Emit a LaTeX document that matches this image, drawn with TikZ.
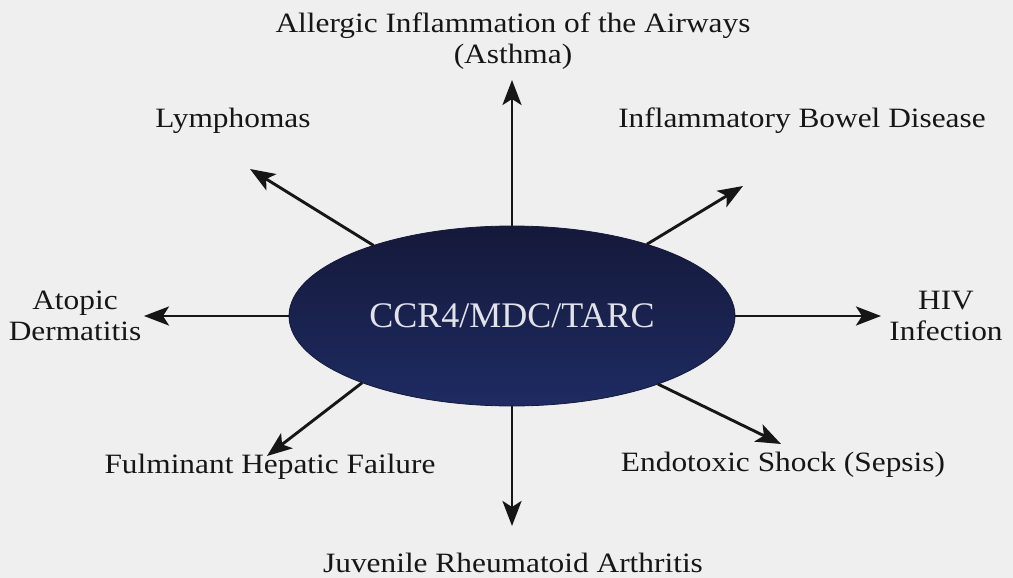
\documentclass[tikz,border=0pt]{standalone}
\usepackage{fontspec}
\setmainfont{Liberation Serif}[FakeStretch=1.12]
\newfontfamily\ctrfont{Liberation Serif}
\usetikzlibrary{arrows.meta,shapes.geometric}
\definecolor{bg}{HTML}{EFEFEF}
\definecolor{ink}{HTML}{161616}
\definecolor{navyA}{HTML}{15193A}
\definecolor{navyB}{HTML}{1E2B62}
\definecolor{ctrtext}{HTML}{E2E2EA}
\tikzset{
  lbl/.style={font=\fontsize{28}{31}\selectfont, text=ink, align=center, inner sep=0pt},
  conn/.style={draw=ink, line width=2.9pt, -{Stealth[length=25pt,width=19pt,inset=6pt]}},
  hub/.style={ellipse, minimum width=446pt, minimum height=180pt, inner sep=0pt, outer sep=0pt,
    draw=navyA, line width=0.8pt, top color=navyA, bottom color=navyB,
    font=\ctrfont\fontsize{36}{40}\selectfont, text=ctrtext}
}
\begin{document}
\begin{tikzpicture}[x=1pt,y=-1pt]
\fill[bg] (0,0) rectangle (1013,578);
\useasboundingbox (0,0) rectangle (1013,578);

\node[hub] (c) at (512,316) {CCR4/MDC/TARC};

\node[lbl] (asthma) at (513,41) {Allergic Inflammation of the Airways\\(Asthma)};
\node[lbl] (lym) at (233,121) {Lymphomas};
\node[lbl] (ibd) at (802,121) {Inflammatory Bowel Disease};
\node[lbl] (atop) at (75,316) {Atopic\\Dermatitis};
\node[lbl] (hiv) at (946,316) {HIV\\Infection};
\node[lbl] (fhf) at (270,467) {Fulminant Hepatic Failure};
\node[lbl] (ess) at (783,465) {Endotoxic Shock (Sepsis)};
\node[lbl] (jra) at (513,563) {Juvenile Rheumatoid Arthritis};

\coordinate (tUp) at (512,80);
\coordinate (tUL) at (250,169);
\coordinate (tUR) at (743,186);
\coordinate (tL) at (144,316);
\coordinate (tR) at (881,316);
\coordinate (tLL) at (267,456);
\coordinate (tLR) at (781,444);
\coordinate (tDn) at (512,526);

\draw[conn] (c.north) -- (tUp);
\draw[conn] (c.153.3) -- (tUL);
\draw[conn] (c.28.2) -- (tUR);
\draw[conn] (c.west) -- (tL);
\draw[conn] (c.east) -- (tR);
\draw[conn] (c.204.7) -- (tLL);
\draw[conn] (c.335.8) -- (tLR);
\draw[conn] (c.south) -- (tDn);
\end{tikzpicture}
\end{document}
